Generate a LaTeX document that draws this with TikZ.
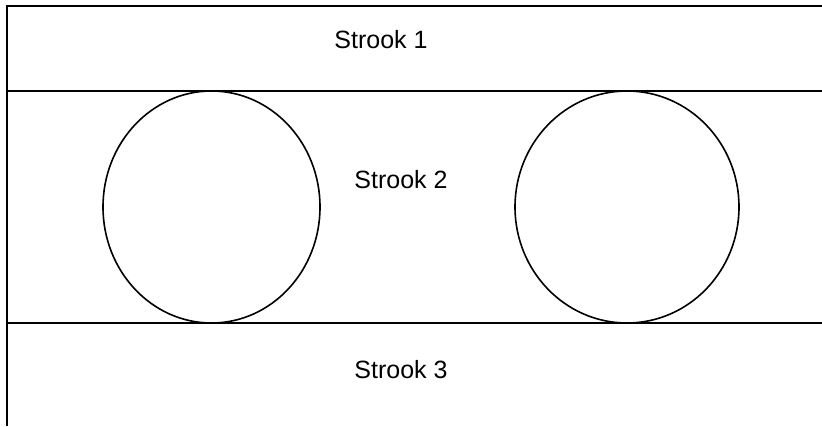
\documentclass[tikz,border=0pt]{standalone}
\usepackage{fontspec}
\setmainfont{Liberation Sans}
\begin{document}
\begin{tikzpicture}[x=1pt,y=-1pt,
  band/.style={line width=1.6pt,black},
  ring/.style={line width=1.6pt,black},
  label/.style={anchor=base,inner sep=0pt,font=\fontsize{25}{30}\selectfont}]
\useasboundingbox (0,0) rectangle (822,426);
% open frame: top edge and left edge only
\draw[band] (822,6) -- (7,6) -- (7,426);
% dividing lines between the strips
\draw[band] (7,91) -- (822,91);
\draw[band] (7,323) -- (822,323);
% the two circles in the middle strip
\draw[ring] (211.5,207) ellipse [x radius=108.5, y radius=116];
\draw[ring] (627,207) ellipse [x radius=112, y radius=116];
% strip labels
\node[label] (s1) at (381,48) {Strook 1};
\node[label] (s2) at (401,188) {Strook 2};
\node[label] (s3) at (401,378) {Strook 3};
\end{tikzpicture}
\end{document}
